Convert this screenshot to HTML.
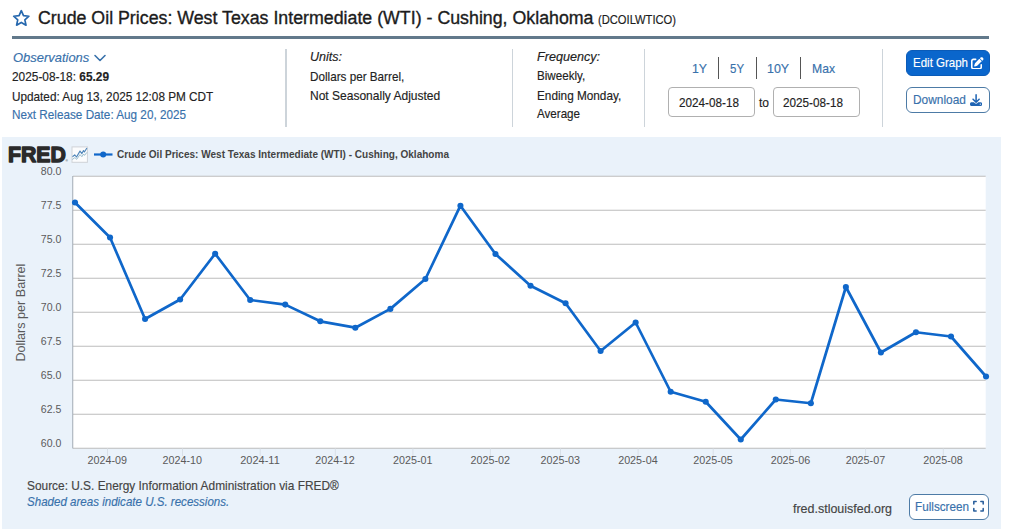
<!DOCTYPE html>
<html lang="en"><head><meta charset="utf-8"><title>Crude Oil Prices: West Texas Intermediate (WTI) - Cushing, Oklahoma (DCOILWTICO) | FRED</title>
<style>
html,body{margin:0;padding:0;background:#fff}
body{width:1024px;height:529px;position:relative;overflow:hidden;font-family:"Liberation Sans", sans-serif;}
.t{-webkit-text-stroke:0.16px currentColor;position:absolute;white-space:nowrap;line-height:20px;height:20px;transform-origin:0 50%;display:block}
h1,section,nav,footer,header,main{margin:0;padding:0;font-weight:normal;font-size:inherit}
b{font-weight:bold} em.t{font-style:italic} a.t{text-decoration:none;cursor:pointer}
.rule{position:absolute;left:12px;top:36px;width:977.4px;height:2.6px;background:#62798b}
.vdiv{position:absolute;top:48.6px;width:1.3px;height:78.6px;background:#cdd4da}
.sep{position:absolute;top:57px;width:1px;height:22px;background:#555}
.inp{position:absolute;top:87px;width:85px;height:28px;border:1px solid #b0b0b0;border-radius:4px;background:#fff}
.btn{position:absolute;box-sizing:border-box;border-radius:6px}
.chartbg{position:absolute;left:1.5px;top:137px;width:999.8px;height:392px;background:#eaf2fa}
</style></head><body>
<header>
<h1>
<svg style="position:absolute;left:0;top:0" width="40" height="34" viewBox="0 0 40 34"><path d="M21.30 10.70 L23.50 15.67 L28.91 16.23 L24.87 19.86 L26.00 25.17 L21.30 22.45 L16.60 25.17 L17.73 19.86 L13.69 16.23 L19.10 15.67 Z" fill="none" stroke="#2668ae" stroke-width="1.7" stroke-linejoin="round"/></svg>
<span class="t" id="t-title" style="left:37.5px;top:8px;font-size:18px;color:#1c1c1c;-webkit-text-stroke:0.35px #1c1c1c;transform:scaleX(0.9875)">Crude Oil Prices: West Texas Intermediate (WTI) - Cushing, Oklahoma</span>
<span class="t" id="t-sid" style="left:598.0px;top:10px;font-size:12px;color:#1c1c1c;transform:scaleX(0.9312)">(DCOILWTICO)</span>
</h1>
<div class="rule"></div>
<section class="meta">
<a class="t" id="t-obs" style="left:12.7px;top:48px;font-size:13.2px;color:#3871ab;font-style:italic;transform:scaleX(0.9820)">Observations</a>
<svg style="position:absolute;left:92.9px;top:52.6px" width="14" height="10" viewBox="0 0 14 10"><path d="M2 2.5 L7 7.5 L12 2.5" fill="none" stroke="#3871ab" stroke-width="1.6" stroke-linecap="round" stroke-linejoin="round"/></svg>
<span class="t" id="t-val" style="left:12.0px;top:67px;font-size:13.2px;color:#222;transform:scaleX(0.8998)">2025-08-18: <b>65.29</b></span>
<span class="t" id="t-upd" style="left:12.0px;top:87px;font-size:13.2px;color:#222;transform:scaleX(0.8913)">Updated: Aug 13, 2025 12:08 PM CDT</span>
<a class="t" id="t-nxt" style="left:12.0px;top:105px;font-size:13.2px;color:#3871ab;transform:scaleX(0.8889)">Next Release Date: Aug 20, 2025</a>
</section>
<div class="vdiv" style="left:285.4px"></div>
<section class="meta">
<em class="t" id="t-units" style="left:310.0px;top:47px;font-size:13.2px;color:#222;font-style:italic;transform:scaleX(0.9490)">Units:</em>
<span class="t" id="t-u1" style="left:310.0px;top:67px;font-size:13.2px;color:#222;transform:scaleX(0.8868)">Dollars per Barrel,</span>
<span class="t" id="t-u2" style="left:310.0px;top:86px;font-size:13.2px;color:#222;transform:scaleX(0.9110)">Not Seasonally Adjusted</span>
</section>
<div class="vdiv" style="left:511.8px"></div>
<section class="meta">
<em class="t" id="t-freq" style="left:537.0px;top:47px;font-size:13.2px;color:#222;font-style:italic;transform:scaleX(0.9549)">Frequency:</em>
<span class="t" id="t-f1" style="left:537.0px;top:66px;font-size:13.2px;color:#222;transform:scaleX(0.8816)">Biweekly,</span>
<span class="t" id="t-f2" style="left:537.0px;top:86px;font-size:13.2px;color:#222;transform:scaleX(0.8932)">Ending Monday,</span>
<span class="t" id="t-f3" style="left:537.0px;top:104px;font-size:13.2px;color:#222;transform:scaleX(0.8798)">Average</span>
</section>
<div class="vdiv" style="left:643.9px"></div>
<nav>
<a class="t" id="t-r1" style="left:692.0px;top:59px;font-size:13.2px;color:#3871ab;transform:scaleX(0.9341)">1Y</a><i class="sep" style="left:718px"></i>
<a class="t" id="t-r5" style="left:730.0px;top:59px;font-size:13.2px;color:#3871ab;transform:scaleX(0.8698)">5Y</a><i class="sep" style="left:756px"></i>
<a class="t" id="t-r10" style="left:767.0px;top:59px;font-size:13.2px;color:#3871ab;transform:scaleX(0.9430)">10Y</a><i class="sep" style="left:800px"></i>
<a class="t" id="t-rmax" style="left:812.0px;top:59px;font-size:13.2px;color:#3871ab;transform:scaleX(0.9229)">Max</a>
<div class="inp" style="left:668px"></div><span class="t" id="t-d1" style="left:679.0px;top:93px;font-size:13.2px;color:#222;transform:scaleX(0.8894)">2024-08-18</span>
<span class="t" id="t-to" style="left:759.0px;top:93px;font-size:13.2px;color:#222;transform:scaleX(0.9132)">to</span>
<div class="inp" style="left:773px"></div><span class="t" id="t-d2" style="left:783.0px;top:93px;font-size:13.2px;color:#222;transform:scaleX(0.8894)">2025-08-18</span>
</nav>
<div class="vdiv" style="left:882.1px"></div>
<div class="actions">
<div class="btn" style="left:906.3px;top:50px;width:83.7px;height:25.5px;background:#0a66cc;border:1px solid #0a5bb8"></div>
<span class="t" id="t-edit" style="left:913.0px;top:53px;font-size:12.6px;color:#fff;transform:scaleX(0.9136)">Edit Graph</span>
<svg style="position:absolute;left:971px;top:56.6px" width="12.6" height="12.6" viewBox="0 0 512 512"><path fill="#fff" d="M471.6 21.7c-21.9-21.9-57.3-21.9-79.200 0L362.300 51.700l97.900 97.900 30.100-30.100c21.900-21.900 21.900-57.300 0-79.200L471.600 21.700zm-299.200 220c-6.100 6.100-10.800 13.600-13.500 21.900l-29.600 88.800c-2.900 8.600-.6 18.100 5.800 24.600s15.900 8.700 24.600 5.800l88.800-29.600c8.200-2.700 15.700-7.400 21.900-13.500L437.700 172.300 339.700 74.300 172.400 241.700zM96 64C43 64 0 107 0 160V416c0 53 43 96 96 96H352c53 0 96-43 96-96V320c0-17.700-14.300-32-32-32s-32 14.300-32 32v96c0 17.700-14.300 32-32 32H96c-17.700 0-32-14.300-32-32V160c0-17.700 14.300-32 32-32h96c17.700 0 32-14.300 32-32s-14.300-32-32-32H96z"/></svg>
<div class="btn" style="left:906.3px;top:87.2px;width:83.7px;height:25.6px;background:#fff;border:1px solid #4d7ba6"></div>
<span class="t" id="t-dl" style="left:913.4px;top:90px;font-size:12.6px;color:#3871ab;transform:scaleX(0.9445)">Download</span>
<svg style="position:absolute;left:970.3px;top:93.6px" width="12.2" height="12" viewBox="0 0 512 512" preserveAspectRatio="none"><path fill="#1f64b4" d="M288 32c0-17.700-14.300-32-32-32s-32 14.300-32 32V274.700l-73.400-73.400c-12.500-12.500-32.800-12.500-45.300 0s-12.500 32.800 0 45.300l128 128c12.500 12.500 32.800 12.500 45.300 0l128-128c12.500-12.500 12.500-32.800 0-45.300s-32.800-12.500-45.300 0L288 274.700V32zM64 352c-35.300 0-64 28.700-64 64v32c0 35.300 28.700 64 64 64H448c35.300 0 64-28.700 64-64V416c0-35.300-28.700-64-64-64H346.500l-45.300 45.300c-25 25-65.500 25-90.500 0L165.500 352H64zm368 56a24 24 0 1 1 0 48 24 24 0 1 1 0-48z"/></svg>
</div>
</header>
<main>
<div class="chartbg"></div>
<svg class="chart" width="1024" height="529" viewBox="0 0 1024 529" style="position:absolute;left:0;top:0;font-family:'Liberation Sans', sans-serif">
<rect x="73" y="176" width="912.7" height="272" fill="#fff"/>
<line x1="73" x2="985.7" y1="176.25" y2="176.25" stroke="#bdbdbd" stroke-width="1.15"/>
<line x1="73" x2="985.7" y1="210.25" y2="210.25" stroke="#bdbdbd" stroke-width="1.15"/>
<line x1="73" x2="985.7" y1="244.25" y2="244.25" stroke="#bdbdbd" stroke-width="1.15"/>
<line x1="73" x2="985.7" y1="278.25" y2="278.25" stroke="#bdbdbd" stroke-width="1.15"/>
<line x1="73" x2="985.7" y1="312.25" y2="312.25" stroke="#bdbdbd" stroke-width="1.15"/>
<line x1="73" x2="985.7" y1="346.25" y2="346.25" stroke="#bdbdbd" stroke-width="1.15"/>
<line x1="73" x2="985.7" y1="380.25" y2="380.25" stroke="#bdbdbd" stroke-width="1.15"/>
<line x1="73" x2="985.7" y1="414.25" y2="414.25" stroke="#bdbdbd" stroke-width="1.15"/>
<line x1="73" x2="985.7" y1="448.25" y2="448.25" stroke="#bdbdbd" stroke-width="1.15"/>
<line x1="72.75" x2="72.75" y1="176" y2="448.5" stroke="#a3abb4" stroke-width="1"/>
<line x1="107.5" x2="107.5" y1="448.5" y2="456" stroke="#d9e0e8" stroke-width="1"/>
<line x1="182.5" x2="182.5" y1="448.5" y2="456" stroke="#d9e0e8" stroke-width="1"/>
<line x1="260.2" x2="260.2" y1="448.5" y2="456" stroke="#d9e0e8" stroke-width="1"/>
<line x1="335.3" x2="335.3" y1="448.5" y2="456" stroke="#d9e0e8" stroke-width="1"/>
<line x1="412.9" x2="412.9" y1="448.5" y2="456" stroke="#d9e0e8" stroke-width="1"/>
<line x1="490.4" x2="490.4" y1="448.5" y2="456" stroke="#d9e0e8" stroke-width="1"/>
<line x1="560.5" x2="560.5" y1="448.5" y2="456" stroke="#d9e0e8" stroke-width="1"/>
<line x1="638.1" x2="638.1" y1="448.5" y2="456" stroke="#d9e0e8" stroke-width="1"/>
<line x1="713.2" x2="713.2" y1="448.5" y2="456" stroke="#d9e0e8" stroke-width="1"/>
<line x1="790.6" x2="790.6" y1="448.5" y2="456" stroke="#d9e0e8" stroke-width="1"/>
<line x1="865.6" x2="865.6" y1="448.5" y2="456" stroke="#d9e0e8" stroke-width="1"/>
<line x1="943.3" x2="943.3" y1="448.5" y2="456" stroke="#d9e0e8" stroke-width="1"/>
<path d="M75.0 202.5 L110.04 237.5 L145.08 319 L180.12 299.5 L215.16 253.75 L250.2 300 L285.24 304.6 L320.28 321.3 L355.32 327.7 L390.36 308.9 L425.4 279 L460.44 205.7 L495.48 254 L530.52 285.75 L565.56 303.25 L600.6 351 L635.64 322.5 L670.68 391.75 L705.72 401.75 L740.76 439.5 L775.8 399.5 L810.84 403.25 L845.88 287 L880.92 352.5 L915.96 332.25 L951.0 336.5 L986.04 376.5" fill="none" stroke="#0f67ca" stroke-width="2.7" stroke-linejoin="round" stroke-linecap="round"/>
<circle cx="75.0" cy="202.5" r="3.05" fill="#0f67ca"/>
<circle cx="110.04" cy="237.5" r="3.05" fill="#0f67ca"/>
<circle cx="145.08" cy="319" r="3.05" fill="#0f67ca"/>
<circle cx="180.12" cy="299.5" r="3.05" fill="#0f67ca"/>
<circle cx="215.16" cy="253.75" r="3.05" fill="#0f67ca"/>
<circle cx="250.2" cy="300" r="3.05" fill="#0f67ca"/>
<circle cx="285.24" cy="304.6" r="3.05" fill="#0f67ca"/>
<circle cx="320.28" cy="321.3" r="3.05" fill="#0f67ca"/>
<circle cx="355.32" cy="327.7" r="3.05" fill="#0f67ca"/>
<circle cx="390.36" cy="308.9" r="3.05" fill="#0f67ca"/>
<circle cx="425.4" cy="279" r="3.05" fill="#0f67ca"/>
<circle cx="460.44" cy="205.7" r="3.05" fill="#0f67ca"/>
<circle cx="495.48" cy="254" r="3.05" fill="#0f67ca"/>
<circle cx="530.52" cy="285.75" r="3.05" fill="#0f67ca"/>
<circle cx="565.56" cy="303.25" r="3.05" fill="#0f67ca"/>
<circle cx="600.6" cy="351" r="3.05" fill="#0f67ca"/>
<circle cx="635.64" cy="322.5" r="3.05" fill="#0f67ca"/>
<circle cx="670.68" cy="391.75" r="3.05" fill="#0f67ca"/>
<circle cx="705.72" cy="401.75" r="3.05" fill="#0f67ca"/>
<circle cx="740.76" cy="439.5" r="3.05" fill="#0f67ca"/>
<circle cx="775.8" cy="399.5" r="3.05" fill="#0f67ca"/>
<circle cx="810.84" cy="403.25" r="3.05" fill="#0f67ca"/>
<circle cx="845.88" cy="287" r="3.05" fill="#0f67ca"/>
<circle cx="880.92" cy="352.5" r="3.05" fill="#0f67ca"/>
<circle cx="915.96" cy="332.25" r="3.05" fill="#0f67ca"/>
<circle cx="951.0" cy="336.5" r="3.05" fill="#0f67ca"/>
<circle cx="986.04" cy="376.5" r="3.05" fill="#0f67ca"/>
<text x="61.3" y="175.4" text-anchor="end" font-size="11.2" fill="#5a5a5a" textLength="20.5" lengthAdjust="spacingAndGlyphs">80.0</text>
<text x="61.3" y="209.4" text-anchor="end" font-size="11.2" fill="#5a5a5a" textLength="20.5" lengthAdjust="spacingAndGlyphs">77.5</text>
<text x="61.3" y="243.4" text-anchor="end" font-size="11.2" fill="#5a5a5a" textLength="20.5" lengthAdjust="spacingAndGlyphs">75.0</text>
<text x="61.3" y="277.4" text-anchor="end" font-size="11.2" fill="#5a5a5a" textLength="20.5" lengthAdjust="spacingAndGlyphs">72.5</text>
<text x="61.3" y="311.4" text-anchor="end" font-size="11.2" fill="#5a5a5a" textLength="20.5" lengthAdjust="spacingAndGlyphs">70.0</text>
<text x="61.3" y="345.4" text-anchor="end" font-size="11.2" fill="#5a5a5a" textLength="20.5" lengthAdjust="spacingAndGlyphs">67.5</text>
<text x="61.3" y="379.4" text-anchor="end" font-size="11.2" fill="#5a5a5a" textLength="20.5" lengthAdjust="spacingAndGlyphs">65.0</text>
<text x="61.3" y="413.4" text-anchor="end" font-size="11.2" fill="#5a5a5a" textLength="20.5" lengthAdjust="spacingAndGlyphs">62.5</text>
<text x="61.3" y="447.4" text-anchor="end" font-size="11.2" fill="#5a5a5a" textLength="20.5" lengthAdjust="spacingAndGlyphs">60.0</text>
<text x="107.3" y="464.3" text-anchor="middle" font-size="11.2" fill="#5a5a5a" textLength="39.5" lengthAdjust="spacingAndGlyphs">2024-09</text>
<text x="182.3" y="464.3" text-anchor="middle" font-size="11.2" fill="#5a5a5a" textLength="39.5" lengthAdjust="spacingAndGlyphs">2024-10</text>
<text x="260.0" y="464.3" text-anchor="middle" font-size="11.2" fill="#5a5a5a" textLength="39.5" lengthAdjust="spacingAndGlyphs">2024-11</text>
<text x="335.1" y="464.3" text-anchor="middle" font-size="11.2" fill="#5a5a5a" textLength="39.5" lengthAdjust="spacingAndGlyphs">2024-12</text>
<text x="412.7" y="464.3" text-anchor="middle" font-size="11.2" fill="#5a5a5a" textLength="39.5" lengthAdjust="spacingAndGlyphs">2025-01</text>
<text x="490.2" y="464.3" text-anchor="middle" font-size="11.2" fill="#5a5a5a" textLength="39.5" lengthAdjust="spacingAndGlyphs">2025-02</text>
<text x="560.3" y="464.3" text-anchor="middle" font-size="11.2" fill="#5a5a5a" textLength="39.5" lengthAdjust="spacingAndGlyphs">2025-03</text>
<text x="637.9" y="464.3" text-anchor="middle" font-size="11.2" fill="#5a5a5a" textLength="39.5" lengthAdjust="spacingAndGlyphs">2025-04</text>
<text x="713.0" y="464.3" text-anchor="middle" font-size="11.2" fill="#5a5a5a" textLength="39.5" lengthAdjust="spacingAndGlyphs">2025-05</text>
<text x="790.4" y="464.3" text-anchor="middle" font-size="11.2" fill="#5a5a5a" textLength="39.5" lengthAdjust="spacingAndGlyphs">2025-06</text>
<text x="865.4" y="464.3" text-anchor="middle" font-size="11.2" fill="#5a5a5a" textLength="39.5" lengthAdjust="spacingAndGlyphs">2025-07</text>
<text x="943.0999999999999" y="464.3" text-anchor="middle" font-size="11.2" fill="#5a5a5a" textLength="39.5" lengthAdjust="spacingAndGlyphs">2025-08</text>
<text transform="translate(24.8 312.6) rotate(-90)" text-anchor="middle" font-size="12" fill="#5a5a5a" textLength="98" lengthAdjust="spacingAndGlyphs">Dollars per Barrel</text>
<line x1="94" x2="112.5" y1="154.5" y2="154.5" stroke="#0f67ca" stroke-width="2.2"/>
<circle cx="103.2" cy="154.5" r="3.0" fill="#0f67ca"/>
<text x="117" y="157.8" font-size="10.6" font-weight="bold" fill="#444" textLength="332" lengthAdjust="spacingAndGlyphs">Crude Oil Prices: West Texas Intermediate (WTI) - Cushing, Oklahoma</text>
<text x="8" y="161.8" font-size="21.6" font-weight="bold" fill="#2a2a2a" stroke="#2a2a2a" stroke-width="1.35" stroke-linejoin="round" textLength="57.9" lengthAdjust="spacingAndGlyphs">FRED</text>
<text x="65.6" y="162.2" font-size="3.2" fill="#2a2a2a">&#174;</text>
<g transform="translate(71.5 146.4)"><rect x="0.5" y="0.5" width="15.4" height="15.4" fill="#fbfcfd" stroke="#cfd3d7" stroke-width="1"/><path d="M0.8 13.1 L3.4 11.2 L5.2 12.9 L8.5 8.2 L10.4 10.3 L12 7.6 L13 9 L15.4 6" fill="none" stroke="#8fb6c8" stroke-width="0.9" stroke-linejoin="round"/><path d="M1 10.4 L3.2 8.5 L5 10.6 L8.5 4.7 L10.4 7.2 L12 4.1 L12.9 5.6 L15.4 1.6" fill="none" stroke="#4f86ba" stroke-width="1.15" stroke-linejoin="round"/></g>
</svg>
<footer>
<span class="t" id="t-src" style="left:27.0px;top:476px;font-size:13px;color:#444;transform:scaleX(0.9136)">Source: U.S. Energy Information Administration via FRED&reg;</span>
<a class="t" id="t-shade" style="left:27.0px;top:492px;font-size:12.6px;color:#3871ab;font-style:italic;transform:scaleX(0.9172)">Shaded areas indicate U.S. recessions.</a>
<span class="t" id="t-site" style="left:793.0px;top:499px;font-size:13px;color:#444;transform:scaleX(0.9585)">fred.stlouisfed.org</span>
<div class="btn" style="left:909.3px;top:494.1px;width:79.8px;height:25.6px;background:#fff;border:1px solid #4d7ba6"></div>
<span class="t" id="t-full" style="left:915.0px;top:497px;font-size:12.6px;color:#3871ab;transform:scaleX(0.9305)">Fullscreen</span>
<svg style="position:absolute;left:972.5px;top:500.4px" width="11" height="12.5" viewBox="0 0 448 512"><path fill="#2a5f9c" d="M32 32C14.300 32 0 46.300 0 64v96c0 17.700 14.300 32 32 32s32-14.300 32-32V96h64c17.700 0 32-14.300 32-32s-14.300-32-32-32H32zM64 352c0-17.700-14.300-32-32-32s-32 14.300-32 32v96c0 17.700 14.300 32 32 32h96c17.700 0 32-14.300 32-32s-14.300-32-32-32H64V352zM320 32c-17.700 0-32 14.300-32 32s14.300 32 32 32h64v64c0 17.700 14.300 32 32 32s32-14.300 32-32V64c0-17.700-14.300-32-32-32H320zM448 352c0-17.700-14.300-32-32-32s-32 14.300-32 32v64H320c-17.700 0-32 14.300-32 32s14.300 32 32 32h96c17.700 0 32-14.300 32-32V352z"/></svg>
</footer>
</main>
</body></html>
